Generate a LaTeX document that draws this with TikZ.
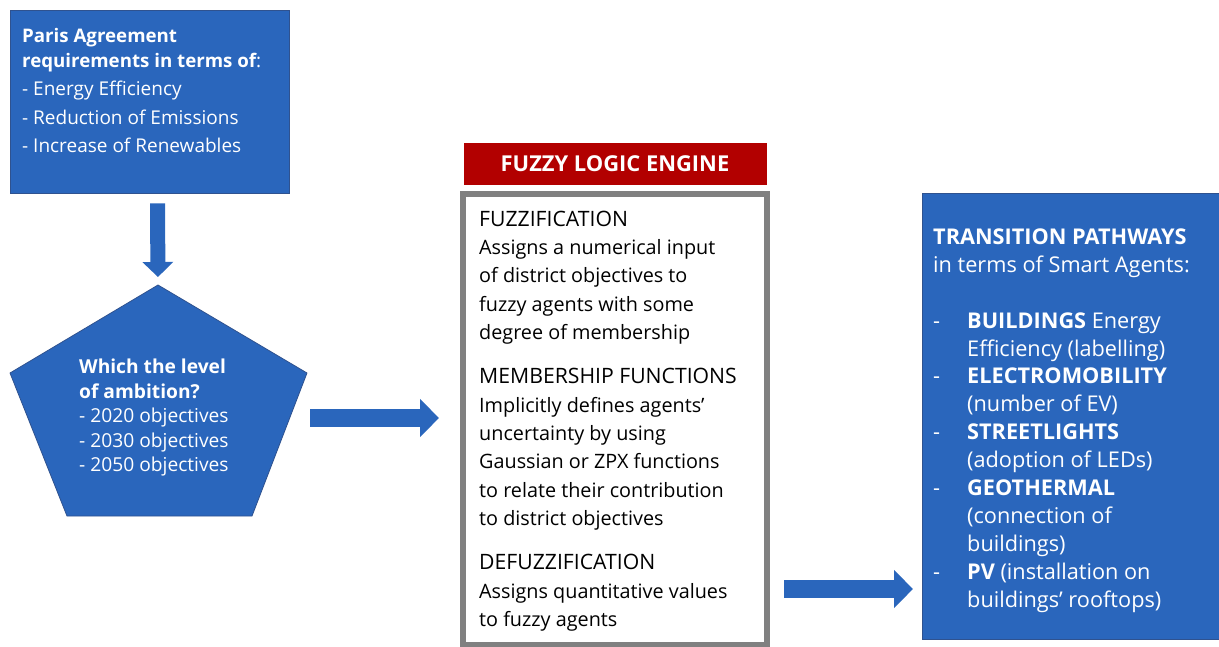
\documentclass[tikz,border=0pt]{standalone}
\usepackage{fontspec}
\setmainfont{Open Sans}
\usetikzlibrary{arrows.meta,positioning}

\definecolor{boxblue}{HTML}{2A66BC}
\definecolor{edgeblue}{HTML}{2F528F}
\definecolor{enginered}{HTML}{B20000}
\definecolor{framegray}{HTML}{808080}

\newcommand{\headsize}{\fontsize{21.2}{28.4}\selectfont}
\newcommand{\bodysize}{\fontsize{19.8}{28.4}\selectfont}
\newcommand{\agent}[1]{\makebox[34pt][l]{-}#1}
\newcommand{\cont}{\hspace*{34pt}}

\begin{document}
\begin{tikzpicture}[x=1pt,y=-1pt,
    blue box/.style={rectangle,fill=boxblue,draw=edgeblue,line width=0.8pt,inner sep=0pt},
    big arrow/.style={draw=boxblue,line width=15pt,-{Triangle[width=30pt,length=15pt]}},
    wide arrow/.style={draw=boxblue,line width=17.5pt,-{Triangle[width=37pt,length=19pt]}},
    box text/.style={align=left,inner sep=0pt,anchor=north west}]

  \useasboundingbox (0,0) rectangle (1219,646);

  % left column
  \node[blue box,minimum width=279pt,minimum height=183pt] (1) at (149.5,101.5) {};
  \node[box text,text=white,font=\fontsize{19}{28.5}\selectfont] (1a) at (22,28)
    {{\fontsize{18.7}{28.5}\selectfont\bfseries Paris Agreement}\\[-3.5pt]
     {\fontsize{18.7}{28.5}\selectfont\bfseries requirements in terms of}:\\
     - Energy Efficiency\\
     - Reduction of Emissions\\
     - Increase of Renewables};

  \filldraw[fill=boxblue,draw=edgeblue,line width=0.8pt]
    (158,285) coordinate (p1) -- (307,373) coordinate (p2) -- (252,516)
    -- (67,516) -- (10,373) -- cycle;
  \node[box text,text=white,font=\fontsize{19.2}{24.5}\selectfont] (2) at (79,359)
    {\textbf{Which the level}\\
     \textbf{of ambition?}\\
     - 2020 objectives\\
     - 2030 objectives\\
     - 2050 objectives};

  % fuzzy logic engine
  \node[rectangle,draw=framegray,line width=6pt,fill=white,
        minimum width=304pt,minimum height=451pt] (3) at (615,419.5) {};
  \node[rectangle,fill=enginered,text=white,minimum width=303pt,minimum height=42pt,
        font=\fontsize{21.9}{26}\selectfont\bfseries,above=6pt of 3] (4) {FUZZY LOGIC ENGINE};
  \node[box text,font=\bodysize] (3a) at (479,210.5)
    {{\headsize FUZZIFICATION}\\
     Assigns a numerical input\\
     of district objectives to\\
     fuzzy agents with some\\
     degree of membership\\[15.7pt]
     {\headsize MEMBERSHIP FUNCTIONS}\\
     Implicitly defines agents’\\
     uncertainty by using\\
     Gaussian or ZPX functions\\
     to relate their contribution\\
     to district objectives\\[15.7pt]
     {\headsize DEFUZZIFICATION}\\
     Assigns quantitative values\\
     to fuzzy agents};

  % transition pathways
  \node[blue box,minimum width=297pt,minimum height=446pt] (5) at (1070.5,416) {};
  \node[box text,text=white,font=\fontsize{21.7}{27.9}\selectfont] (5a) at (933,228.5)
    {\textbf{TRANSITION PATHWAYS}\\
     in terms of Smart Agents:\\[27.9pt]
     \agent{\textbf{BUILDINGS} Energy}\\
     \cont Efficiency (labelling)\\
     \agent{\textbf{ELECTROMOBILITY}}\\
     \cont (number of EV)\\
     \agent{\textbf{STREETLIGHTS}}\\
     \cont (adoption of LEDs)\\
     \agent{\textbf{GEOTHERMAL}}\\
     \cont (connection of\\
     \cont buildings)\\
     \agent{\textbf{PV} (installation on}\\
     \cont buildings’ rooftops)};

  % block arrows
  \coordinate (c1) at ([xshift=8pt,yshift=-10pt]1.south);
  \coordinate (c2) at (310,418);
  \coordinate (c3) at (784,589);

  \draw[big arrow,shorten >=8pt] (c1) -- (p1);
  \draw[wide arrow,shorten >=21pt] (c2) -- (c2 -| 3.west);
  \draw[wide arrow,shorten >=8.6pt] (c3) -- (c3 -| 5.west);
\end{tikzpicture}
\end{document}
